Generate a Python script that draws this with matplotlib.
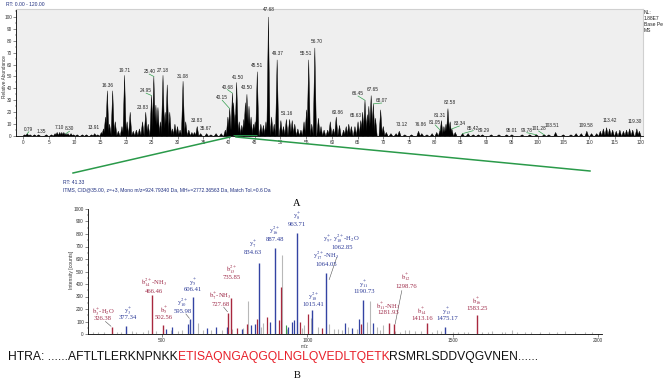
import matplotlib.pyplot as plt
from matplotlib.ticker import MultipleLocator

plt.rcParams['font.family'] = 'Liberation Sans'
plt.rcParams['mathtext.fontset'] = 'stix'

# --- chromatogram (A): labelled peaks ---
chrom_rt = [0.79, 1.35, 7.10, 8.30, 13.91, 16.36, 19.71, 23.83, 24.95, 25.40, 27.18, 31.08,
            33.83, 35.67, 40.15, 40.68, 41.50, 43.50, 45.51, 47.68, 49.37, 51.16, 55.51, 56.70,
            60.86, 65.63, 66.45, 67.65, 68.07, 73.12, 76.86, 81.05, 81.31, 82.58, 83.34, 85.42,
            89.29, 95.01, 99.78, 101.28, 103.51, 109.58, 113.42, 119.30]
chrom_h = [2, 1, 3, 2, 2, 38, 51, 20, 34, 50, 51, 46,
           8, 2, 23, 36, 45, 35, 54, 100, 64, 14, 64, 74,
           16, 13, 30, 34, 27, 4, 4, 5, 13, 23, 6, 2,
           1, 1, 1, 1, 3, 4, 7, 6]
chrom_lab_x = [1.1, 3.5, 7.1, 9.0, 13.6, 16.4, 19.7, 23.3, 23.9, 24.5, 27.2, 31.1,
               33.7, 35.6, 38.7, 39.7, 41.7, 43.5, 45.5, 47.8, 49.6, 51.3, 54.9, 57.0,
               61.2, 64.7, 65.1, 67.9, 69.7, 73.6, 77.3, 80.1, 81.0, 83.0, 84.8, 87.5,
               89.6, 95.0, 97.9, 100.2, 102.8, 109.4, 114.0, 118.8]
chrom_lab_y = [3.6, 1.7, 5, 4, 5, 40, 53, 22, 36, 52, 53, 48,
               11, 4, 30, 39, 47, 39, 57, 104, 67, 17, 67, 77,
               18, 15, 33.6, 36.7, 27.7, 7.8, 7.8, 9.3, 15, 26, 8.4, 4.5,
               2.8, 2.2, 2.8, 4.2, 6.5, 7, 10.6, 10]
chrom_leader = [1, 0, 0, 1, 0, 0, 0, 0, 1, 1, 0, 0,
                0, 0, 1, 1, 0, 0, 0, 0, 0, 0, 0, 0,
                0, 0, 1, 0, 1, 0, 0, 1, 0, 0, 1, 1,
                0, 0, 1, 1, 0, 0, 0, 0]

# unlabelled chromatogram peaks
minor_rt = [0.3, 2.2, 3.0, 4.5, 5.5, 6.2, 6.6, 7.5, 7.9, 8.7, 9.3, 9.8, 10.5, 11.5, 12.3, 13.3,
            14.5, 15.2, 15.6, 16.0, 16.8, 17.4, 17.9, 18.5, 19.2, 20.2, 20.8, 21.4, 22.0, 22.6,
            23.2, 24.3, 25.8, 26.2, 26.7, 27.6, 28.0, 28.5, 29.0, 29.5, 30.0, 30.5, 31.6, 32.2,
            32.8, 33.3, 34.5, 36.5, 37.5, 38.5, 39.3, 39.8, 40.9, 41.2, 42.0, 42.5, 42.9, 43.2,
            43.9, 44.3, 44.8, 45.1, 46.2, 46.7, 47.2, 48.3, 48.8, 50.1, 50.6, 51.8, 52.3, 52.8,
            53.4, 54.0, 54.6, 55.1, 56.1, 57.4, 57.9, 58.5, 59.2, 59.7, 60.3, 61.5, 62.3, 62.8,
            63.3, 63.8, 64.5, 65.1, 66.0, 66.9, 67.2, 68.5, 69.5, 70.0, 70.6, 71.5, 72.5, 74.2,
            75.5, 77.5, 78.5, 79.5, 80.4, 81.8, 82.2, 83.0, 84.0, 86.5, 87.5, 88.5, 91.0, 92.5,
            94.0, 97.0, 98.5, 102.2, 105.0, 106.5, 107.5, 108.5, 110.5, 111.5, 112.2, 112.8,
            114.0, 114.6, 115.3, 116.0, 116.7, 117.3, 117.9, 118.5, 119.8]
minor_h = [1, 1, 1, 1, 1, 2, 3, 3, 3, 2, 2, 1, 1, 1, 1, 1,
           1, 3, 6, 16, 10, 38, 12, 4, 8, 12, 20, 4, 5, 6,
           12, 10, 26, 24, 12, 20, 43, 20, 6, 10, 8, 5, 12, 5,
           3, 3, 2, 1, 2, 2, 5, 16, 28, 18, 12, 9, 14, 28,
           25, 16, 10, 12, 10, 9, 12, 16, 10, 13, 8, 14, 13, 10,
           6, 5, 12, 22, 10, 15, 8, 5, 5, 12, 6, 9, 5, 8,
           10, 8, 8, 12, 20, 18, 25, 15, 22, 8, 3, 2, 2, 1,
           1, 2, 1, 2, 3, 8, 10, 12, 3, 2, 1, 1, 1, 1,
           1, 1, 1, 1, 1, 1, 2, 2, 2, 2, 4, 6,
           6, 5, 4, 5, 4, 5, 6, 5, 4]

# --- MS/MS spectrum (B): annotated fragment ions ---
ion_names = [r'$\mathrm{b_{3}^{+}}$-H$_2$O', r'$\mathrm{y_{3}^{+}}$', r'$\mathrm{b_{14}^{2+}}$-NH$_3$',
             r'$\mathrm{b_{5}^{+}}$', r'$\mathrm{y_{10}^{2+}}$', r'$\mathrm{y_{5}^{+}}$',
             r'$\mathrm{b_{7}^{+}}$-NH$_3$', r'$\mathrm{b_{13}^{2+}}$', r'$\mathrm{y_{7}^{+}}$',
             r'$\mathrm{y_{16}^{2+}}$', r'$\mathrm{y_{8}^{+}}$', r'$\mathrm{y_{9}^{+}}$, $\mathrm{y_{18}^{2+}}$-H$_2$O',
             r'$\mathrm{y_{17}^{2+}}$-NH$_3$', r'$\mathrm{y_{18}^{2+}}$', r'$\mathrm{y_{11}^{+}}$',
             r'$\mathrm{b_{12}^{+}}$', r'$\mathrm{b_{11}^{+}}$-NH$_3$', r'$\mathrm{b_{14}^{+}}$',
             r'$\mathrm{y_{13}^{+}}$', r'$\mathrm{b_{16}^{+}}$']
ion_mz = [326.38, 377.34, 466.46, 502.56, 595.98, 606.41, 727.68, 735.85, 834.63, 887.48,
          963.71, 1062.85, 1064.05, 1015.41, 1190.73, 1298.76, 1281.93, 1413.16, 1475.17, 1583.25]
ion_int = [56, 65, 313, 72, 118, 300, 170, 290, 570, 690,
           806, 0, 490, 190, 274, 80, 90, 85, 60, 150]
ion_type = ['b', 'y', 'b', 'b', 'y', 'y', 'b', 'b', 'y', 'y',
            'y', 'y', 'y', 'y', 'y', 'b', 'b', 'b', 'y', 'b']
ion_lab_mz = [297, 383, 472, 507, 572, 607, 700, 741, 813, 889,
              965, 1119, 1064, 1020, 1195, 1340, 1278, 1395, 1481, 1584]
ion_lab_i1 = [177, 185, 411, 194, 250, 419, 298, 516, 718, 823,
              944, 766, 621, 300, 403, 452, 226, 185, 185, 266]
ion_lab_i2 = [121, 129, 339, 129, 177, 355, 234, 452, 653, 758,
              879, 694, 556, 238, 339, 379, 169, 121, 121, 202]
# leader lines (label end -> peak), m/z and intensity
lead_mz0 = [305, 582, 712, 1101, 1325]
lead_i0 = [100, 160, 215, 613, 347]
lead_mz1 = [324, 594, 725, 1075, 1302]
lead_i1 = [62, 125, 178, 435, 80]

blue_mz = [513, 535, 590, 654, 685, 723, 774, 805, 820, 872, 935, 946, 955, 1130, 1153, 1176, 1227]
blue_int = [40, 60, 80, 50, 55, 60, 40, 70, 80, 100, 60, 100, 110, 90, 50, 120, 90]
red_mz = [757, 791, 826, 860, 903, 910, 975, 1003, 1050, 1185]
red_int = [45, 80, 120, 140, 110, 380, 100, 160, 50, 80]
gray_mz = [262, 280, 300, 345, 360, 395, 410, 436, 450, 480, 530, 555, 568, 625, 640, 670, 705,
           740, 780, 797, 840, 849, 870, 914, 930, 983, 990, 1013, 1036, 1075, 1090, 1107, 1120,
           1141, 1170, 1204, 1216, 1239, 1250, 1262, 1300, 1320, 1336, 1350, 1371, 1390, 1430,
           1445, 1460, 1500, 1520, 1540, 1554, 1600, 1620, 1634, 1669, 1680, 1703, 1720, 1749,
           1770, 1801, 1830, 1860, 1887, 1920, 1956, 1980]
gray_int = [15, 20, 15, 20, 15, 25, 20, 20, 30, 25, 30, 25, 30, 90, 35, 30, 30,
            40, 50, 266, 60, 90, 50, 630, 40, 50, 70, 130, 60, 80, 40, 40, 30,
            60, 40, 100, 266, 60, 30, 70, 25, 20, 30, 30, 25, 25, 20,
            30, 25, 20, 20, 15, 20, 20, 15, 25, 20, 15, 35, 20, 20,
            15, 20, 15, 20, 25, 15, 15, 15]
green_mz = [926]
green_int = [70]

seq_left = 'HTRA: ......AFTLTLERKNPNKK'
seq_pep = 'ETISAQNGAQGQLNGLQVEDLTQETK'
seq_right = 'RSMRLSDDVQGVNEN......'

W, H = 663, 385
fig = plt.figure(figsize=(W / 100, H / 100), dpi=100)

# ---------------- A ----------------
ax = fig.add_axes([16 / W, 1 - 136 / H, 627 / W, 127 / H])
ax.set_facecolor('#efefef')
for rt, h in zip(minor_rt, minor_h):
    ax.fill([rt - 0.32, rt, rt + 0.32], [0, h, 0], color='black', lw=0.3)
for rt, h in zip(chrom_rt, chrom_h):
    ax.fill([rt - 0.32, rt, rt + 0.32], [0, h, 0], color='black', lw=0.3)
for rt, h, lx, ly, ld in zip(chrom_rt, chrom_h, chrom_lab_x, chrom_lab_y, chrom_leader):
    ax.text(lx, ly, '%.2f' % rt, fontsize=3.4, ha='center', va='bottom', color='#222222')
    if ld:
        ax.plot([lx, rt], [ly, h], color='#35a050', lw=0.5)
ax.plot([0, 120], [0.3, 0.3], color='black', lw=0.6)
ax.plot([40.8, 45.4], [0, 0], color='#2aa050', lw=2, solid_capstyle='butt', zorder=5)
ax.set_xlim(-1.4, 120.5)
ax.set_ylim(0, 106.7)
ax.xaxis.set_major_locator(MultipleLocator(5))
ax.xaxis.set_minor_locator(MultipleLocator(1))
ax.yaxis.set_major_locator(MultipleLocator(10))
ax.yaxis.set_minor_locator(MultipleLocator(5))
ax.set_yticks(range(0, 101, 10))
ax.tick_params(labelsize=3.4, length=2, width=0.4, pad=1, colors='#333333')
ax.tick_params(which='minor', length=1, width=0.3)
for s in ['top', 'right']:
    ax.spines[s].set_color('#d0d0d0')
for s in ['left', 'bottom']:
    ax.spines[s].set_linewidth(0.6)

# ---------------- B ----------------
bx = fig.add_axes([88 / W, 1 - 334 / H, 514 / W, 125 / H])
bx.vlines(gray_mz, 0, gray_int, color='#b8b8b8', lw=0.8)
bx.vlines(green_mz, 0, green_int, color='#3a9a4a', lw=0.8)
bx.vlines(blue_mz, 0, blue_int, color='#3343a3', lw=0.9)
bx.vlines(red_mz, 0, red_int, color='#a8283e', lw=0.9)
for mz, it, t in zip(ion_mz, ion_int, ion_type):
    if it > 0:
        bx.vlines(mz, 0, it, color='#3343a3' if t == 'y' else '#a8283e', lw=1.0)
for nm, mz, t, lx, l1, l2 in zip(ion_names, ion_mz, ion_type, ion_lab_mz, ion_lab_i1, ion_lab_i2):
    c = '#2a3896' if t == 'y' else '#9e2a48'
    bx.text(lx, l1, nm, fontsize=4.8, ha='center', va='center', color=c, family='Liberation Serif')
    bx.text(lx, l2, '%.2f' % mz, fontsize=4.8, ha='center', va='center', color=c,
            family='Liberation Serif')
for a0, b0, a1, b1 in zip(lead_mz0, lead_i0, lead_mz1, lead_i1):
    bx.plot([a0, a1], [b0, b1], color='#555555', lw=0.4)
bx.set_xlim(245, 2014)
bx.set_ylim(0, 1000)
bx.set_xticks([500, 1000, 1500, 2000])
bx.xaxis.set_minor_locator(MultipleLocator(100))
bx.set_yticks(range(0, 1001, 100))
bx.yaxis.set_minor_locator(MultipleLocator(50))
bx.tick_params(labelsize=3.4, length=2, width=0.4, pad=1, colors='#333333')
bx.tick_params(which='minor', length=1, width=0.3)
for s in ['top', 'right']:
    bx.spines[s].set_visible(False)
for s in ['left', 'bottom']:
    bx.spines[s].set_linewidth(0.6)

# ---------------- overlay text and zoom lines (pixel coords) ----------------
ov = fig.add_axes([0, 0, 1, 1], zorder=10)
ov.set_xlim(0, W)
ov.set_ylim(H, 0)
ov.axis('off')
ov.plot([230, 73], [137, 173], color='#2a9a4a', lw=1.1)
ov.plot([236, 590], [137, 171], color='#2a9a4a', lw=1.1)
blue_txt = '#1f2f80'
ov.text(6, 4, 'RT: 0.00 - 120.00', fontsize=3.6, color=blue_txt, va='center')
for yy, s in zip([12, 18.5, 25, 31], ['NL:', '1.88E7', 'Base Peak', 'MS']):
    ov.text(644, yy, s, fontsize=3.6, color='#222222', va='center')
ov.text(5, 77, 'Relative Abundance', fontsize=3.4, rotation=90, ha='center', va='center',
        color='#333333')
ov.text(297, 203, 'A', fontsize=7.5, ha='center', va='center', family='Liberation Serif')
ov.text(63, 183, 'RT: 41.33', fontsize=3.6, color=blue_txt, va='center')
ov.text(63, 189.5, 'ITMS, CID@35.00, z=+3, Mono m/z=924.79340 Da, MH+=2772.36563 Da, '
        'Match Tol.=0.6 Da', fontsize=3.6, color=blue_txt, va='center')
ov.text(71, 270, 'Intensity [counts]', fontsize=3.6, rotation=90, ha='center', va='center',
        color='#333333')
ov.text(305, 346, 'm/z', fontsize=3.4, ha='center', va='center', color='#333333')

t1 = ov.text(8, 357, seq_left, fontsize=8.7, va='center', color='#111111')
t2 = ov.annotate(seq_pep, xy=(1, 0), xycoords=t1, fontsize=8.7, va='bottom', color='#e8202a')
ov.annotate(seq_right, xy=(1, 0), xycoords=t2, fontsize=8.7, va='bottom', color='#111111')
ov.text(297, 376, 'B', fontsize=7.5, ha='center', va='center', family='Liberation Serif')

fig.savefig('out.png', dpi=100)
